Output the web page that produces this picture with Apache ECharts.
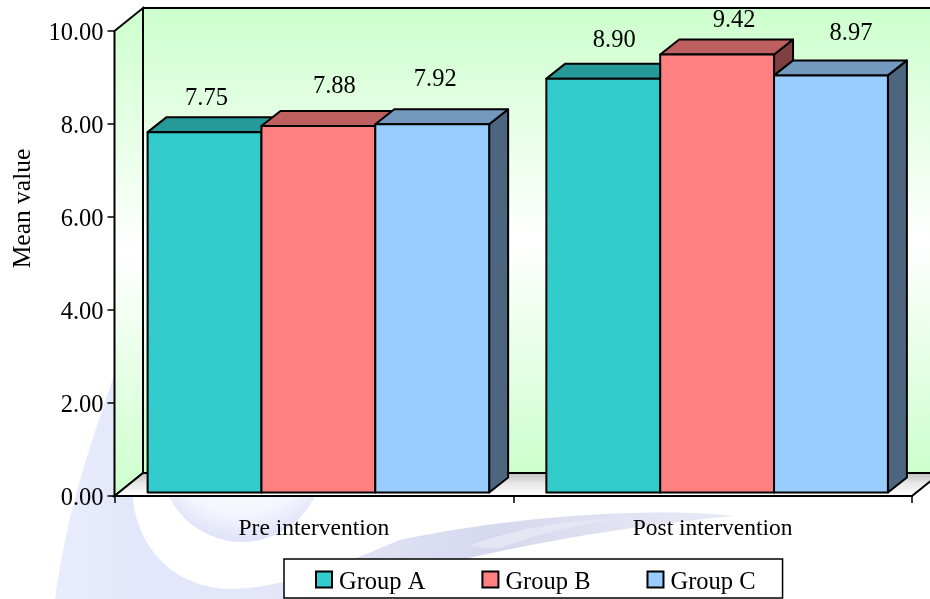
<!DOCTYPE html>
<html><head><meta charset="utf-8">
<style>html,body{margin:0;padding:0;background:#fff}#c{width:930px;height:599px}</style>
<script src="https://cdn.jsdelivr.net/npm/echarts@6/dist/echarts.min.js"></script>
</head><body><div id="c"></div>
<script>
var categories = ['Pre intervention', 'Post intervention'];
var groupNames = ['Group A', 'Group B', 'Group C'];
var groupA = [7.75, 8.90];
var groupB = [7.88, 9.42];
var groupC = [7.92, 8.97];
var yTicks = {min: 0, max: 10, interval: 2};

var FONT = '"Liberation Serif","Times New Roman",serif';
var colors = {
  'Group A': {front: '#33cccc', top: '#269999', side: '#1a6666'},
  'Group B': {front: '#ff8080', top: '#bf6060', side: '#804040'},
  'Group C': {front: '#99ccff', top: '#7399bf', side: '#4d6680'}
};
// depth of the walls and of the bars, px
var WALL = {dx: 28.5, dy: 23};
var BAR = {dx: 19, dy: 15, fx: 4.5, fy: 3.5};
// hand placed data labels in the reference: offset from the bar's front top centre
var labelNudge = {
  'Group A': [[2, -34], [11, -38]],
  'Group B': [[16, -40], [17, -34]],
  'Group C': [[3, -45], [20, -42]]
};

// decorative watermark outline, sampled from cubic curves
function curvePoints(start, segs) {
  var pts = [start], p = start;
  segs.forEach(function (s) {
    if (s.length === 1) { pts.push(s[0]); p = s[0]; return; }
    for (var i = 1; i <= 24; i++) {
      var t = i / 24, u = 1 - t;
      pts.push([
        u*u*u*p[0] + 3*u*u*t*s[0][0] + 3*u*t*t*s[1][0] + t*t*t*s[2][0],
        u*u*u*p[1] + 3*u*u*t*s[0][1] + 3*u*t*t*s[1][1] + t*t*t*s[2][1]
      ]);
    }
    p = s[2];
  });
  return pts;
}
var swoosh = curvePoints([115, 372], [
  [[98, 425], [68, 500], [55, 599]],
  [[330, 599]],
  [[400, 570], [560, 532], [735, 516]],
  [[650, 506], [500, 518], [400, 540]],
  [[340, 565], [280, 590], [225, 589]],
  [[170, 585], [138, 545], [133, 500]],
  [[130, 450], [125, 400], [115, 372]]
]);
var streakLight = curvePoints([500, 548], [
  [[540, 533], [580, 524], [620, 519]],
  [[570, 519], [520, 528], [470, 545]],
  [[480, 548], [490, 549], [500, 548]]
]);

function renderWalls(params, api) {
  var cs = params.coordSys;
  var x0 = cs.x, x1 = cs.x + cs.width, yT = cs.y, yB = cs.y + cs.height;
  var wx = WALL.dx, wy = WALL.dy;
  var green = {type: 'linear', x: 0, y: 0, x2: 0, y2: 1, colorStops: [
    {offset: 0, color: '#ccffcc'}, {offset: .5, color: '#ffffff'}, {offset: 1, color: '#ccffcc'}]};
  var floorFill = {type: 'linear', x: 0, y: 0, x2: 0, y2: 1, colorStops: [
    {offset: 0, color: '#bdbdbd'}, {offset: .45, color: '#e8e8e8'}, {offset: 1, color: '#ffffff'}]};
  var ln = {stroke: '#000', lineWidth: 2};
  return {type: 'group', children: [
    {type: 'polygon', shape: {points: [[x0 + wx, yT - wy], [x1 + wx, yT - wy], [x1 + wx, yB - wy], [x0 + wx, yB - wy]]},
      style: Object.assign({fill: green}, ln)},
    {type: 'polygon', shape: {points: [[x0, yT], [x0 + wx, yT - wy], [x0 + wx, yB - wy], [x0, yB]]},
      style: Object.assign({fill: green}, ln)},
    {type: 'polygon', shape: {points: [[x0, yB], [x0 + wx, yB - wy], [x1 + wx, yB - wy], [x1, yB]]},
      style: Object.assign({fill: floorFill}, ln)}
  ]};
}

function makeRender(name, gi) {
  return function (params, api) {
    var idx = api.value(0), val = api.value(1);
    var band = api.size([1, 0])[0];
    var w = band * 0.2855;
    var top = api.coord([idx, val]), base = api.coord([idx, 0]);
    var cx = top[0] + BAR.fx + (gi - 1) * w;
    var l = cx - w / 2, r = cx + w / 2;
    var t = top[1] - BAR.fy, b = base[1] - BAR.fy;
    var dx = BAR.dx, dy = BAR.dy, c = colors[name];
    var ln = {stroke: '#000', lineWidth: 2, lineJoin: 'round'};
    var n = labelNudge[name][idx];
    return {type: 'group', children: [
      {type: 'polygon', shape: {points: [[r, t], [r + dx, t - dy], [r + dx, b - dy], [r, b]]},
        style: Object.assign({fill: c.side}, ln)},
      {type: 'polygon', shape: {points: [[l, t], [l + dx, t - dy], [r + dx, t - dy], [r, t]]},
        style: Object.assign({fill: c.top}, ln)},
      {type: 'rect', shape: {x: l, y: t, width: w, height: b - t},
        style: Object.assign({fill: c.front}, ln)},
      {type: 'text', z2: 100, style: {text: val.toFixed(2), x: cx + n[0], y: t + n[1],
        fill: '#000', font: '24.5px ' + FONT, align: 'center', verticalAlign: 'middle'}}
    ]};
  };
}

function barSeries(name, gi, values) {
  return {
    type: 'custom', name: name, coordinateSystem: 'cartesian2d', z: 3 + gi, clip: false,
    itemStyle: {color: colors[name].front, borderColor: '#000', borderWidth: 1.5},
    encode: {x: 0, y: 1},
    data: values.map(function (v, i) { return [i, v]; }),
    renderItem: makeRender(name, gi)
  };
}

var chart = echarts.init(document.getElementById('c'), null, {renderer: 'canvas'});
chart.setOption({
  animation: false,
  backgroundColor: '#fff',
  textStyle: {fontFamily: FONT, color: '#000'},
  graphic: [
    {type: 'circle', silent: true, z: -5, shape: {cx: 242, cy: 461, r: 81},
      style: {fill: {type: 'radial', x: .5, y: .35, r: .62, colorStops: [
        {offset: 0, color: '#ffffff'}, {offset: .75, color: '#f6f7fe'}, {offset: 1, color: '#e2e5f9'}]}}},
    {type: 'polygon', silent: true, z: -4, shape: {points: swoosh},
      style: {fill: {type: 'linear', x: 0, y: 0, x2: 1, y2: 0, colorStops: [
        {offset: 0, color: '#e9ecfc'}, {offset: .12, color: '#e3e7fb'}, {offset: .35, color: '#e4e6f8'}, {offset: .65, color: '#d6d8ee'}, {offset: 1, color: '#ebebf6'}]}}},
    {type: 'polygon', silent: true, z: -3, shape: {points: streakLight},
      style: {fill: '#e5e6f4'}}
  ],
  grid: {left: 114.5, right: 18, top: 31, bottom: 103, outerBoundsMode: 'none'},
  legend: {
    data: groupNames, left: 284, top: 559, orient: 'horizontal',
    padding: [11, 27, 3, 31], itemGap: 56, itemWidth: 16, itemHeight: 16, icon: 'rect',
    backgroundColor: '#fff', borderColor: '#000', borderWidth: 1.5, borderRadius: 0,
    selectedMode: false,
    formatter: function (n) { return '{a|' + n + '}'; },
    textStyle: {
      fontFamily: FONT, fontSize: 24.5, color: '#000',
      rich: {a: {fontFamily: FONT, fontSize: 24.5, color: '#000', padding: [6, 0, 0, 2]}}
    }
  },
  xAxis: {
    type: 'category', data: categories, boundaryGap: true,
    axisLine: {show: true, onZero: false, lineStyle: {color: '#000', width: 2}},
    axisTick: {show: true, length: 7, alignWithLabel: false, lineStyle: {color: '#000', width: 1.5}},
    axisLabel: {fontFamily: FONT, fontSize: 23.5, color: '#000', margin: 21},
    splitLine: {show: false}
  },
  yAxis: {
    type: 'value', min: yTicks.min, max: yTicks.max, interval: yTicks.interval,
    name: 'Mean value', nameLocation: 'middle', nameGap: 78, nameRotate: 90,
    nameTextStyle: {fontFamily: FONT, fontSize: 25.5, color: '#000', padding: [0, 0, 0, 110]},
    axisLine: {show: true, lineStyle: {color: '#000', width: 2}},
    axisTick: {show: true, length: 7, lineStyle: {color: '#000', width: 1.5}},
    axisLabel: {
      margin: 11, formatter: function (v) { return '{a|' + v.toFixed(2) + '}'; },
      rich: {a: {fontFamily: FONT, fontSize: 24.5, color: '#000', padding: [5, 0, 0, 0]}}
    },
    splitLine: {show: false}
  },
  series: [
    {type: 'custom', name: 'walls', coordinateSystem: 'cartesian2d', z: 1, clip: false, silent: true,
      data: [[0, 0]], renderItem: renderWalls},
    barSeries('Group A', 0, groupA),
    barSeries('Group B', 1, groupB),
    barSeries('Group C', 2, groupC)
  ]
});
</script></body></html>
